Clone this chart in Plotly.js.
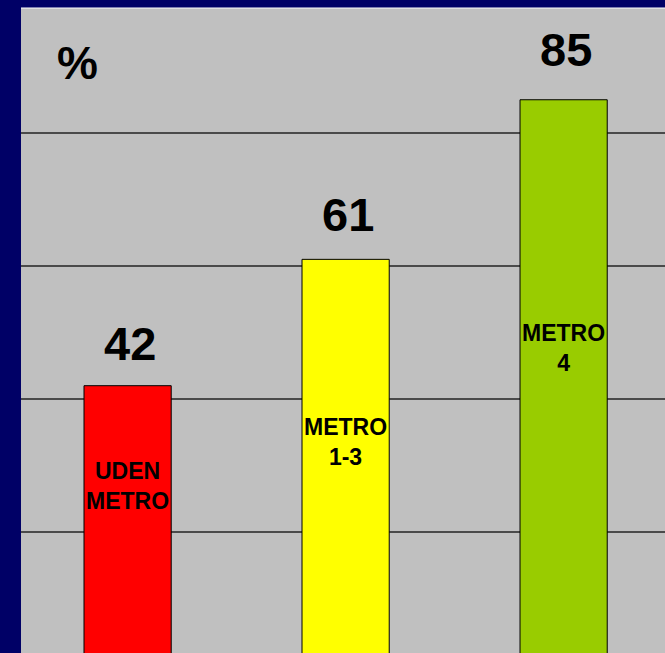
<!DOCTYPE html>
<html>
<head>
<meta charset="utf-8">
<script src="https://cdn.plot.ly/plotly-3.0.1.min.js"></script>
<style>
html,body{margin:0;padding:0;background:#000066;overflow:hidden;}
#chart{width:665px;height:653px;}
</style>
</head>
<body>
<div id="chart"></div>
<script>
const categories = ["UDEN<br>METRO", "METRO<br>1-3", "METRO<br>4"];
const values = [42, 61, 85];
const barColors = ["#FF0000", "#FFFF00", "#99CC00"];
const unitLabel = "%";

const FONT = "Liberation Sans, Arial, Helvetica, sans-serif";
const xs = [0, 1, 2];
const innerFrac = [0.64, 0.55, 0.56];
const valueShift = [14, 16, 22];

const trace = {
  type: "bar",
  x: xs,
  y: values,
  marker: {color: barColors, line: {color: "#000000", width: 1}},
  hoverinfo: "none"
};

const annotations = [];
values.forEach((v, i) => {
  annotations.push({
    x: xs[i], y: v, xref: "x", yref: "y",
    text: String(v), showarrow: false,
    yanchor: "bottom", yshift: valueShift[i], xshift: 2,
    font: {family: FONT, size: 47, color: "#000000", weight: "bold"}
  });
  annotations.push({
    x: xs[i], y: v * innerFrac[i], xref: "x", yref: "y",
    text: categories[i], showarrow: false,
    yanchor: "middle",
    font: {family: FONT, size: 23, color: "#000000", weight: "bold"}
  });
});
annotations.push({
  x: 0.087, y: 0.915, xref: "paper", yref: "paper",
  text: unitLabel, showarrow: false, xanchor: "center", yanchor: "middle",
  font: {family: FONT, size: 46, color: "#000000", weight: "bold"}
});

const layout = {
  width: 665, height: 653,
  margin: {l: 21, r: 0, t: 8, b: 0, pad: 0},
  paper_bgcolor: "#000066",
  plot_bgcolor: "#C0C0C0",
  bargap: 0.6,
  showlegend: false,
  xaxis: {
    type: "linear", range: [-0.489, 2.465],
    showgrid: false, zeroline: false, showticklabels: false, ticks: "", showline: false,
    fixedrange: true
  },
  yaxis: {
    range: [1.8, 98.8], dtick: 20, tick0: 0,
    showgrid: true, gridcolor: "#4a4a4a", gridwidth: 1.2,
    zeroline: false, showticklabels: false, ticks: "", showline: false,
    fixedrange: true
  },
  shapes: [{
    type: "line", xref: "paper", yref: "paper", x0: 0, x1: 1, y0: 1, y1: 1,
    line: {color: "#FFFFFF", width: 1}
  }],
  annotations: annotations
};

Plotly.newPlot("chart", [trace], layout, {displayModeBar: false, staticPlot: true});
</script>
</body>
</html>
